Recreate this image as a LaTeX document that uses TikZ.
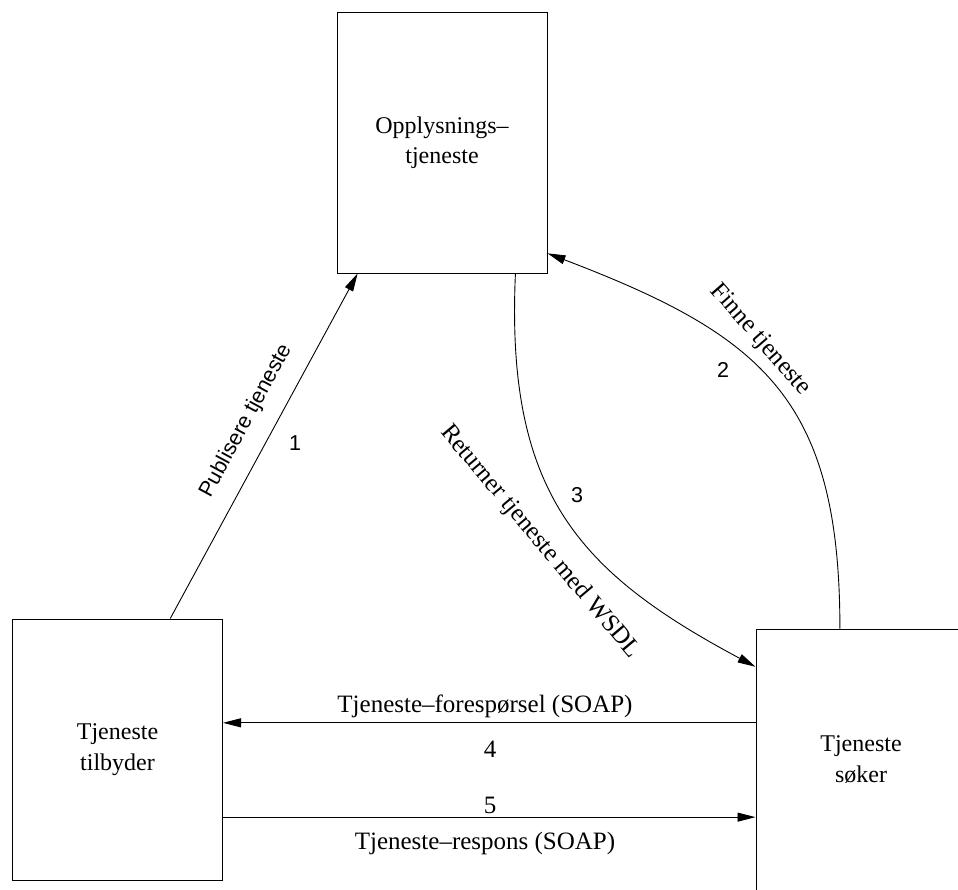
\documentclass[tikz,border=0pt]{standalone}
\usepackage{fontspec}
\setmainfont{Liberation Serif}
\newfontfamily\helv{Liberation Sans}
\usetikzlibrary{arrows.meta,calc}
\begin{document}
\begin{tikzpicture}[x=1pt,y=-1pt,
  box/.style={draw,line width=1pt,minimum width=210pt,minimum height=261pt,
    inner sep=0pt,align=center,font=\fontsize{24}{30.5}\selectfont},
  conn/.style={line width=0.9pt,-{Triangle[length=18pt,width=9pt]}},
  lbl/.style={font=\fontsize{25}{30}\selectfont,inner sep=0pt},
  slbl/.style={font=\helv\fontsize{21.5}{25}\selectfont,inner sep=0pt}]
\useasboundingbox (0,0) rectangle (958,889);
\clip (0,0) rectangle (958,889);

% the three parties
\node[box] (dir)  at (442,142.5) {Opplysnings--\\tjeneste};
\node[box] (prov) at (117.5,749.5) {Tjeneste\\tilbyder};
\node[box] (seek) at (861,759.5) {Tjeneste\\søker};

% 1: publish
\draw[conn] ($(prov.north west)!0.75!(prov.north east)$)
  -- ($(dir.south west)!0.1!(dir.south east)$);
\node[slbl,rotate=61.6] (l1) at (246,421) {Publisere tjeneste};
\node[slbl] (n1) at (295,443) {1};

% 2: find
\draw[conn] ($(seek.north west)!0.4!(seek.north east)$)
  .. controls +(0,-230) and +(215,82) ..
  ($(dir.north east)!0.923!(dir.south east)$);
\node[lbl,rotate=-49] (l2) at (760,340) {Finne tjeneste};
\node[slbl] (n2) at (723,370) {2};

% 3: return WSDL
\draw[conn] ($(dir.south west)!0.848!(dir.south east)$)
  .. controls +(-10,220) and +(-176,-94) ..
  ($(seek.north west)!0.146!(seek.south west)$);
\node[lbl,rotate=-50] (l3) at (540,542) {Returner tjeneste med WSDL};
\node[slbl] (n3) at (577,495) {3};

% 4: request
\coordinate (q) at ($(seek.north west)!0.36!(seek.south west)$);
\draw[conn] (q) -- (q -| prov.east);
\node[lbl] (l4) at (485,706) {Tjeneste--forespørsel (SOAP)};
\node[lbl] (n4) at (490,749) {4};

% 5: response
\coordinate (r) at ($(seek.north west)!0.72!(seek.south west)$);
\draw[conn] (r -| prov.east) -- (r);
\node[lbl] (n5) at (490,805) {5};
\node[lbl] (l5) at (485,843) {Tjeneste--respons (SOAP)};
\end{tikzpicture}
\end{document}
